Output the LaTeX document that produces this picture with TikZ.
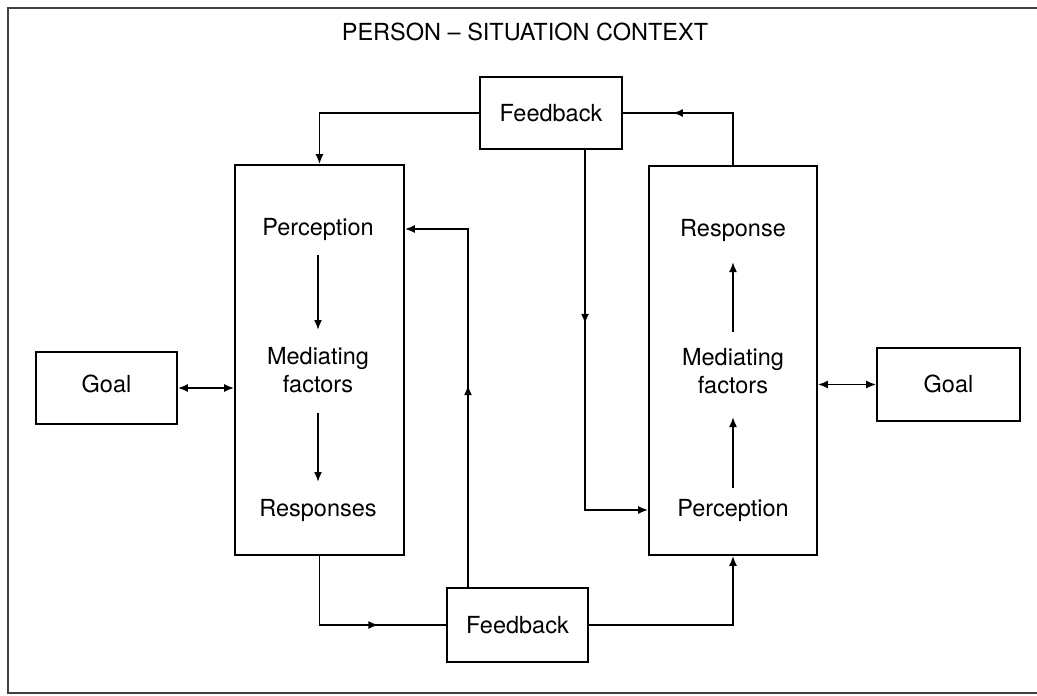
\documentclass[tikz,border=0pt]{standalone}
\usepackage{fontspec}
\setmainfont{TeX Gyre Heros}
\usetikzlibrary{arrows.meta,decorations.markings}

\tikzset{
  tip/.tip={Latex[length=5pt,width=4pt]},
  box/.style={draw, line width=0.85pt, rectangle, inner sep=0pt},
  lbl/.style={inner sep=0pt, align=center, font=\fontsize{11.75}{14}\selectfont},
  link/.style={line width=0.85pt},
  arr/.style={link, -tip},
  dbl/.style={link, tip-tip},
  midtip/.style={postaction={decorate}, decoration={markings,
      mark=at position #1 with {\arrow{tip}}}},
  frame/.style={line width=0.7pt, draw=black!75}
}

\begin{document}
\begin{tikzpicture}[x=0.5pt, y=-0.5pt]
  \useasboundingbox (0,0) rectangle (1037,695);

  % outer frame, open at the right edge
  \draw[frame] (1037,8) -- (8,8) -- (8,693) -- (1037,693);

  \node[lbl] (title) at (525,32) {PERSON \textendash\ SITUATION CONTEXT};

  % boxes
  \node[box, minimum width=71pt, minimum height=36pt] (tf) at (551,113) {};
  \node[lbl] at (tf) {Feedback};
  \node[box, minimum width=70.5pt, minimum height=37pt] (bf) at (517.5,625) {};
  \node[lbl] at (bf) {Feedback};
  \node[box, minimum width=84.5pt, minimum height=195pt] (lb) at (319.5,360) {};
  \node[box, minimum width=84pt, minimum height=194.5pt] (rb) at (733,360.5) {};
  \node[box, minimum width=70.5pt, minimum height=36pt] (lg) at (106.5,388) {};
  \node[lbl] at (106.5,384) {Goal};
  \node[box, minimum width=71.5pt, minimum height=36.5pt] (rg) at (948.5,384.5) {};
  \node[lbl] at (948.5,384) {Goal};

  % texts inside the left box
  \node[lbl] (lp) at (318,229) {Perception};
  \node[lbl] (lm) at (318,370) {Mediating\\factors};
  \node[lbl] (lr) at (318,510) {Responses};

  % texts inside the right box
  \node[lbl] (rr) at (733,230) {Response};
  \node[lbl] (rm) at (733,371) {Mediating\\factors};
  \node[lbl] (rp) at (733,510) {Perception};

  % arrows inside the boxes
  \draw[arr, shorten <=13pt, shorten >=20pt] (lp.center) -- (lm.center);
  \draw[arr, shorten <=21.5pt, shorten >=14pt] (lm.center) -- (lr.center);
  \draw[arr, shorten <=11pt, shorten >=23pt] (rp.center) -- (rm.center);
  \draw[arr, shorten <=19.5pt, shorten >=16pt] (rm.center) -- (rr.center);

  % goals
  \draw[dbl] (lg.east) -- (lb.west |- lg.east);
  \draw[dbl] (rb.east |- rg.west) -- (rg.west);

  % feedback loops
  \draw[arr] (tf.west) -| (lb.north);
  \draw[link, midtip=-25pt] (rb.north) |- (tf.east);
  \draw[arr, midtip=87pt] ([xshift=17pt]tf.south) |- (rb.west |- rp);
  \draw[link, midtip=64pt] (lb.south) |- (bf.west);
  \draw[arr, midtip=101pt] ([xshift=-24.75pt]bf.north) |- (lb.east |- lp);
  \draw[arr] (bf.east) -| (rb.south);
\end{tikzpicture}
\end{document}
